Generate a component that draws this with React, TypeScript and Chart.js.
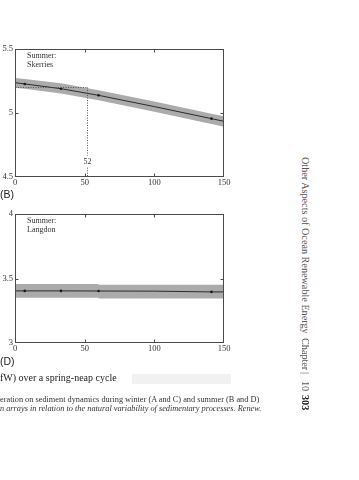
import React, { useEffect, useRef } from "react";
import { Chart, registerables } from "chart.js";
Chart.register(...registerables);

// ---- data ----
const xTickValues = [0, 50, 100, 150];

const skerriesX = [0, 7, 33, 60, 100, 141, 150];
const skerriesMean = [5.237, 5.227, 5.19, 5.138, 5.05, 4.956, 4.935];
const skerriesUpper = [5.273, 5.265, 5.232, 5.178, 5.09, 4.995, 4.975];
const skerriesLower = [5.198, 5.19, 5.152, 5.1, 5.01, 4.915, 4.893];
const skerriesMarkers = [0, 1, 1, 1, 0, 1, 0];
const thresholdX = 52;
const thresholdY = 5.2;
const thresholdLabel = "52";

const langdonX = [0, 7, 33, 60, 100, 141, 150];
const langdonMean = [3.404, 3.404, 3.404, 3.403, 3.402, 3.396, 3.396];
const langdonMarkers = [0, 1, 1, 1, 0, 1, 0];
const langdonBandX = [0, 60, 60, 150];
const langdonUpper = [3.458, 3.458, 3.451, 3.451];
const langdonLower = [3.35, 3.35, 3.345, 3.345];

const SERIF = "'Liberation Serif', 'Times New Roman', serif";
const SANS = "'Liberation Sans', Arial, sans-serif";
const BAND = "#ababab";

const pts = (xs: number[], ys: number[]) => xs.map((x, i) => ({ x, y: ys[i] }));

const framePlugin = {
  id: "frame",
  afterDatasetsDraw(chart: any) {
    const { ctx, chartArea: a, scales } = chart;
    const opts = chart.options.plugins.frame || {};
    ctx.save();
    ctx.strokeStyle = "#4a4a4a";
    ctx.lineWidth = 1;
    const l = Math.round(a.left) + 0.5, r = Math.round(a.right) - 0.5;
    const t = Math.round(a.top) + 0.5, b = Math.round(a.bottom) - 0.5;
    ctx.strokeRect(l, t, r - l, b - t);
    ctx.beginPath();
    const tl = 3;
    scales.x.ticks.forEach((tk: any) => {
      if (tk.value === scales.x.min || tk.value === scales.x.max) return;
      const px = Math.round(scales.x.getPixelForValue(tk.value)) + 0.5;
      ctx.moveTo(px, b); ctx.lineTo(px, b - tl);
      ctx.moveTo(px, t); ctx.lineTo(px, t + tl);
    });
    scales.y.ticks.forEach((tk: any) => {
      if (tk.value === scales.y.min || tk.value === scales.y.max) return;
      const py = Math.round(scales.y.getPixelForValue(tk.value)) + 0.5;
      ctx.moveTo(l, py); ctx.lineTo(l + tl, py);
      ctx.moveTo(r, py); ctx.lineTo(r - tl, py);
    });
    ctx.stroke();
    ctx.fillStyle = "#333";
    ctx.font = `8px ${SERIF}`;
    ctx.textBaseline = "middle";
    ctx.textAlign = "left";
    (opts.lines || []).forEach((s: string, i: number) => {
      ctx.fillText(s, a.left + 12, a.top + 6.5 + i * 9.3);
    });
    if (opts.threshold) {
      const { x, y, label, labelY } = opts.threshold;
      const px = Math.round(scales.x.getPixelForValue(x)) + 0.5;
      const py = Math.round(scales.y.getPixelForValue(y)) + 0.5;
      const ly = scales.y.getPixelForValue(labelY);
      ctx.setLineDash([1, 1.5]);
      ctx.strokeStyle = "#555";
      ctx.beginPath();
      ctx.moveTo(l, py); ctx.lineTo(px, py);
      ctx.moveTo(px, py); ctx.lineTo(px, ly - 6);
      ctx.moveTo(px, ly + 6); ctx.lineTo(px, b);
      ctx.stroke();
      ctx.setLineDash([]);
      ctx.fillStyle = "#333";
      ctx.textAlign = "center";
      ctx.fillText(label, px, ly);
    }
    ctx.restore();
  },
};

function makeConfig(opts: {
  band: { x: number[]; upper: number[]; lower: number[] };
  line: { x: number[]; y: number[]; markers: number[] };
  yMin: number; yMax: number;
  lines: string[];
  threshold?: any;
  padTop: number; padBottom: number;
}) {
  return {
    type: "line",
    data: {
      datasets: [
        {
          data: pts(opts.line.x, opts.line.y),
          order: 0,
          borderWidth: 1, borderColor: "#2a2a2a", fill: false, tension: 0,
          pointRadius: opts.line.markers.map((m) => (m ? 1.3 : 0)),
          pointBackgroundColor: "#1a1a1a", pointBorderWidth: 0,
        },
        {
          data: pts(opts.band.x, opts.band.upper),
          order: 2,
          borderWidth: 0, pointRadius: 0, fill: "+1",
          backgroundColor: BAND, borderColor: BAND, tension: 0,
        },
        {
          data: pts(opts.band.x, opts.band.lower),
          order: 3,
          borderWidth: 0, pointRadius: 0, fill: false,
          borderColor: BAND, tension: 0,
        },
      ],
    },
    options: {
      animation: false,
      responsive: false,
      maintainAspectRatio: false,
      events: [],
      layout: { padding: { left: 0, right: 16, top: opts.padTop, bottom: opts.padBottom } },
      plugins: {
        legend: { display: false },
        tooltip: { enabled: false },
        frame: { lines: opts.lines, threshold: opts.threshold },
      },
      scales: {
        x: {
          type: "linear",
          min: 0, max: 150,
          afterBuildTicks: (s: any) => { s.ticks = xTickValues.map((v) => ({ value: v })); },
          ticks: { color: "#333", font: { family: SERIF, size: 8.5 }, padding: 1, maxRotation: 0, callback: (v: any) => String(v) },
          grid: { display: false, drawTicks: false },
          border: { display: false },
          afterFit: (s: any) => { s.height = 14; },
        },
        y: {
          type: "linear",
          min: opts.yMin, max: opts.yMax,
          ticks: { stepSize: 0.5, color: "#333", font: { family: SERIF, size: 8.5 }, padding: 2, callback: (v: any) => String(v) },
          grid: { display: false, drawTicks: false },
          border: { display: false },
          afterFit: (s: any) => { s.width = 15; },
        },
      },
    },
    plugins: [framePlugin],
  } as any;
}

function Panel({ top, config }: { top: number; config: any }) {
  const ref = useRef<HTMLCanvasElement>(null);
  useEffect(() => {
    const chart = new Chart(ref.current!, config);
    return () => chart.destroy();
  }, []);
  return (
    <canvas
      ref={ref}
      width={240}
      height={160}
      style={{ position: "absolute", left: 0, top, width: 240, height: 160 }}
    />
  );
}

export default function App() {
  const topCfg = makeConfig({
    band: { x: skerriesX, upper: skerriesUpper, lower: skerriesLower },
    line: { x: skerriesX, y: skerriesMean, markers: skerriesMarkers },
    yMin: 4.5, yMax: 5.5,
    lines: ["Summer:", "Skerries"],
    threshold: { x: thresholdX, y: thresholdY, label: thresholdLabel, labelY: 4.62 },
    padTop: 14, padBottom: 4,
  });
  const bottomCfg = makeConfig({
    band: { x: langdonBandX, upper: langdonUpper, lower: langdonLower },
    line: { x: langdonX, y: langdonMean, markers: langdonMarkers },
    yMin: 3, yMax: 4,
    lines: ["Summer:", "Langdon"],
    padTop: 14, padBottom: 3,
  });
  const txt: React.CSSProperties = { position: "absolute", whiteSpace: "nowrap", margin: 0 };
  const vert: React.CSSProperties = {
    ...txt,
    left: 299,
    writingMode: "vertical-rl",
    font: `10.2px ${SERIF}`,
    color: "#555",
    lineHeight: "12px",
  };
  return (
    <div style={{ position: "absolute", left: 0, top: 0, width: 359, height: 480, background: "#fff", overflow: "hidden" }}>
      <Panel top={35} config={topCfg} />
      <Panel top={200} config={bottomCfg} />
      <div style={{ ...txt, left: 0, top: 188, font: `10.5px ${SANS}`, color: "#222", lineHeight: "12px" }}>(B)</div>
      <div style={{ ...txt, left: 0, top: 355, font: `10.5px ${SANS}`, color: "#222", lineHeight: "12px" }}>(D)</div>
      <div style={{ position: "absolute", left: 132, top: 374, width: 99, height: 10, background: "#f1f1f1" }} />
      <div style={{ ...txt, left: 0, top: 372, font: `10px ${SERIF}`, color: "#222", lineHeight: "12px" }}>fW) over a spring-neap cycle</div>
      <div style={{ ...txt, left: 0, top: 395, font: `8.3px ${SERIF}`, color: "#333", lineHeight: "10px" }}>
        eration on sediment dynamics during winter (A and C) and summer (B and D)
      </div>
      <div style={{ ...txt, left: 0, top: 403.5, font: `italic 8.3px ${SERIF}`, color: "#333", lineHeight: "10px" }}>
        n arrays in relation to the natural variability of sedimentary processes. Renew.
      </div>
      <div style={{ ...vert, top: 157 }}>Other Aspects of Ocean Renewable Energy</div>
      <div style={{ ...vert, top: 338 }}>Chapter</div>
      <div style={{ ...vert, top: 372 }}>|</div>
      <div style={{ ...vert, top: 381 }}>10</div>
      <div style={{ ...vert, top: 395, fontWeight: "bold", color: "#111" }}>303</div>
    </div>
  );
}
